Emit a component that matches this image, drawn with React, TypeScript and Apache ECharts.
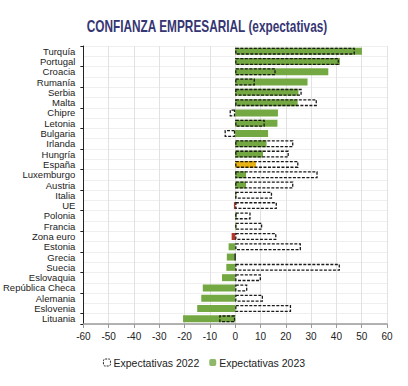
import React, { useEffect, useRef } from "react";
import * as echarts from "echarts";

const titleText = "CONFIANZA EMPRESARIAL (expectativas)";
const categories = [
  "Turquía", "Portugal", "Croacia", "Rumanía", "Serbia", "Malta", "Chipre", "Letonia", "Bulgaria",
  "Irlanda", "Hungría", "España", "Luxemburgo", "Austria", "Italia", "UE", "Polonia", "Francia",
  "Zona euro", "Estonia", "Grecia", "Suecia", "Eslovaquia", "República Checa", "Alemania", "Eslovenia", "Lituania",
];
const expectativas2023 = [
  50.1, 41.4, 36.8, 28.6, 25.0, 24.7, 16.9, 16.7, 13.0,
  12.4, 11.0, 8.2, 4.3, 4.3, 0.5, -0.5, 0.6, 0.5,
  -1.4, -2.6, -3.3, -3.5, -5.2, -12.8, -13.4, -15.0, -20.6,
];
const expectativas2022 = [
  47.3, 41.0, 16.0, 7.8, 26.3, 32.3, -2.2, 11.7, -4.2,
  23.0, 21.2, 25.0, 32.6, 23.0, 14.6, 16.5, 6.1, 10.7,
  16.3, 26.0, 0, 41.4, 10.2, 4.8, 11.0, 22.1, -6.3,
];
const xTicks = [-60, 60, 10];
const highlightYellow = ["España"];
const highlightRed = ["UE", "Zona euro"];

const GREEN = "#74a843";
const FONT = "'Liberation Sans', Arial, sans-serif";

export default function App() {
  const ref = useRef<HTMLDivElement>(null);
  useEffect(() => {
    document.body.style.margin = "0";
    if (!ref.current) return;
    const chart = echarts.init(ref.current, null, { renderer: "svg" });
    const data2023 = expectativas2023.map((v, i) => {
      const c = categories[i];
      if (highlightYellow.includes(c)) return { value: v, itemStyle: { color: "#e9b316" } };
      if (highlightRed.includes(c)) return { value: v, itemStyle: { color: "#b8322a" } };
      return v;
    });
    chart.setOption({
      animation: false,
      backgroundColor: "#ffffff",
      textStyle: { fontFamily: FONT },
      graphic: [
        {
          type: "text",
          x: 207,
          y: 26,
          scaleX: 0.74,
          style: {
            text: titleText,
            align: "center",
            verticalAlign: "middle",
            font: "bold 16px 'Liberation Sans', Arial, sans-serif",
            fill: "#363673",
          },
        },
      ],
      legend: {
        bottom: 13,
        left: "center",
        itemWidth: 7,
        itemHeight: 7,
        itemGap: 10,
        textStyle: { fontFamily: FONT, fontSize: 10.5, color: "#222", padding: [0, 0, 0, -2] },
        data: [
          {
            name: "Expectativas 2022",
            itemStyle: { color: "rgba(0,0,0,0)", borderColor: "#222", borderWidth: 1, borderType: [2, 1] },
          },
          { name: "Expectativas 2023", itemStyle: { color: "#8fb86a" } },
        ],
      },
      grid: { left: 81, right: 21, top: 46, bottom: 62, containLabel: false },
      xAxis: {
        type: "value",
        min: xTicks[0],
        max: xTicks[1],
        interval: xTicks[2],
        axisLine: { show: true, lineStyle: { color: "#9a9a9a", width: 1.5 } },
        axisTick: { show: true, length: 4, lineStyle: { color: "#9a9a9a" } },
        axisLabel: { fontFamily: FONT, fontSize: 10, color: "#222", margin: 7 },
        splitLine: { show: true, lineStyle: { color: "#e2e2e2" } },
      },
      yAxis: [
        {
          type: "category",
          data: categories,
          inverse: true,
          axisLine: { show: false },
          axisTick: { show: false },
          axisLabel: { fontFamily: FONT, fontSize: 9.5, color: "#222", margin: 8, interval: 0 },
          splitLine: { show: true, interval: 0, lineStyle: { color: "#efefef" } },
        },
        {
          type: "category",
          data: categories,
          inverse: true,
          position: "left",
          axisLine: { show: true, onZero: true, lineStyle: { color: "#222", width: 1 } },
          axisTick: { show: true, length: 3, lineStyle: { color: "#222" } },
          axisLabel: { show: false },
          splitLine: { show: false },
        },
      ],
      series: [
        {
          name: "Expectativas 2023",
          type: "bar",
          yAxisIndex: 0,
          data: data2023,
          barWidth: 7,
          itemStyle: { color: GREEN },
          z: 2,
        },
        {
          name: "Expectativas 2022",
          type: "bar",
          yAxisIndex: 0,
          data: expectativas2022,
          barWidth: 7,
          barGap: "-100%",
          itemStyle: {
            color: "rgba(0,0,0,0)",
            borderColor: "#1a1a1a",
            borderWidth: 1.3,
            borderType: [3, 1.5],
          },
          z: 3,
        },
      ],
    });
    return () => chart.dispose();
  }, []);
  return <div ref={ref} style={{ width: 408, height: 386 }} />;
}
